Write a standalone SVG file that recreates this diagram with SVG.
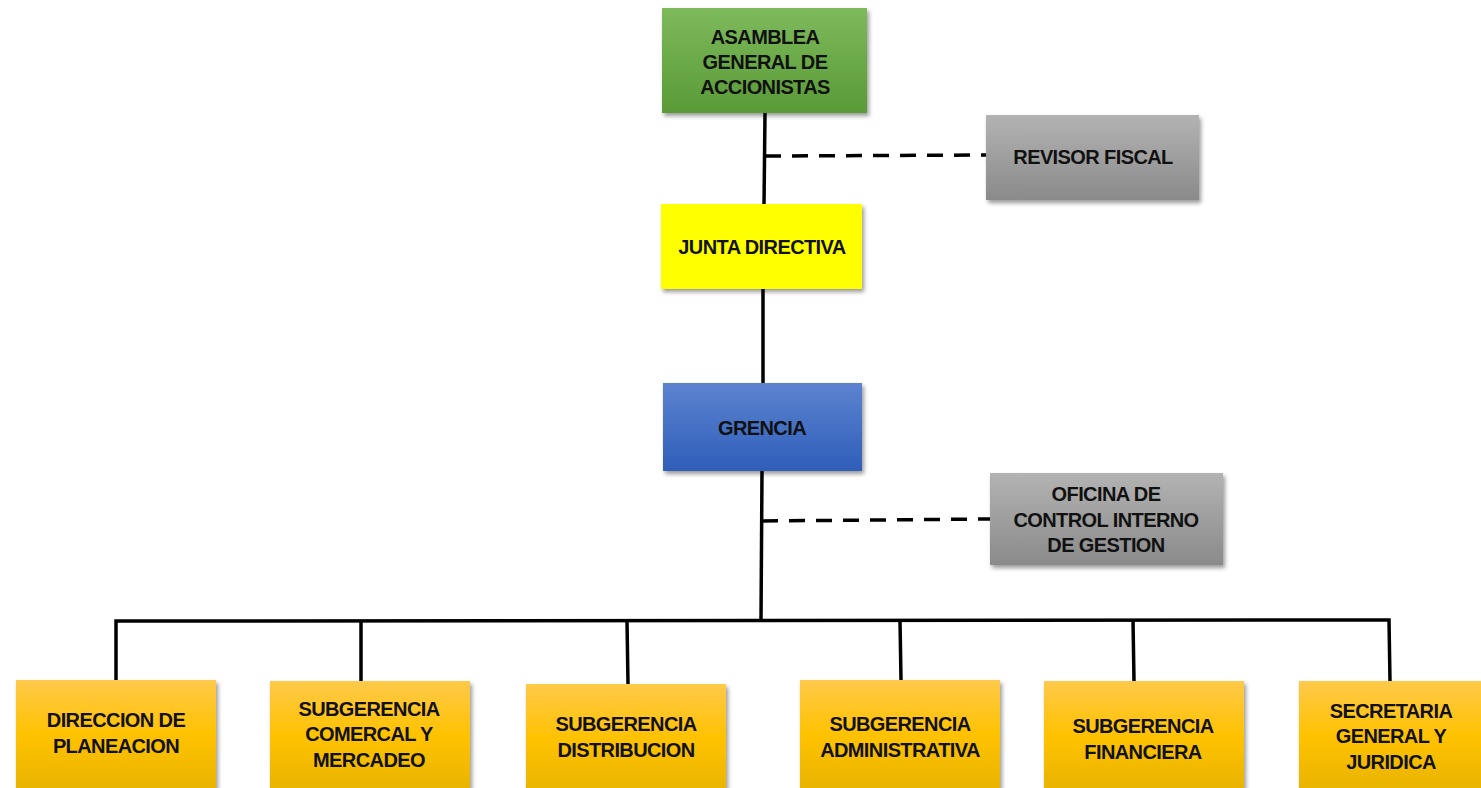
<svg xmlns="http://www.w3.org/2000/svg" width="1481" height="788" viewBox="0 0 1481 788">
<defs>
<linearGradient id="gGreen" x1="0" y1="0" x2="0" y2="1"><stop offset="0" stop-color="#7dba5c"/><stop offset="1" stop-color="#5a9a36"/></linearGradient>
<linearGradient id="gBlue" x1="0" y1="0" x2="0" y2="1"><stop offset="0" stop-color="#5d83d0"/><stop offset="1" stop-color="#2e5eb9"/></linearGradient>
<linearGradient id="gGray" x1="0" y1="0" x2="0" y2="1"><stop offset="0" stop-color="#b3b3b3"/><stop offset="1" stop-color="#8a8a8a"/></linearGradient>
<linearGradient id="gOrange" x1="0" y1="0" x2="0" y2="1"><stop offset="0" stop-color="#ffc94a"/><stop offset="0.5" stop-color="#ffc200"/><stop offset="1" stop-color="#e8b400"/></linearGradient>
<filter id="sh" x="-10%" y="-10%" width="125%" height="130%"><feDropShadow dx="2" dy="3" stdDeviation="2" flood-color="#000" flood-opacity="0.4"/></filter>
</defs>
<style>
text{font-family:"Liberation Sans",Arial,sans-serif;font-weight:bold;font-size:20px;fill:#111;text-anchor:middle;letter-spacing:-0.6px}
.solid{stroke:#000;stroke-width:3.5;fill:none}
.dash{stroke:#000;stroke-width:3.5;fill:none;stroke-dasharray:16,11}
</style>
<g id="connectors">
<line class="solid" x1="765" y1="113" x2="764" y2="205"/>
<line class="dash" x1="765" y1="156" x2="986" y2="155"/>
<line class="solid" x1="763" y1="289" x2="763" y2="384"/>
<line class="solid" x1="762" y1="471" x2="761" y2="620"/>
<line class="dash" x1="762" y1="521" x2="990" y2="519"/>
<polyline class="solid" points="116,680 116,621 1389,620 1390,681"/>
<line class="solid" x1="361" y1="621" x2="361" y2="681"/>
<line class="solid" x1="627" y1="621" x2="628" y2="684"/>
<line class="solid" x1="900" y1="620" x2="901" y2="680"/>
<line class="solid" x1="1133" y1="620" x2="1134" y2="681"/>
</g>
<g id="asamblea"><rect x="662" y="8" width="205" height="105" fill="url(#gGreen)" filter="url(#sh)"/><text x="765" y="44">ASAMBLEA</text><text x="765" y="69">GENERAL DE</text><text x="765" y="94">ACCIONISTAS</text></g>
<g id="revisor"><rect x="986" y="115" width="213" height="85" fill="url(#gGray)" filter="url(#sh)"/><text x="1093" y="164">REVISOR FISCAL</text></g>
<g id="junta"><rect x="661" y="204" width="201" height="85" fill="#ffff00" filter="url(#sh)"/><text x="762" y="254">JUNTA DIRECTIVA</text></g>
<g id="grencia"><rect x="663" y="383" width="199" height="88" fill="url(#gBlue)" filter="url(#sh)"/><text x="762" y="435">GRENCIA</text></g>
<g id="oficina"><rect x="990" y="473" width="233" height="92" fill="url(#gGray)" filter="url(#sh)"/><text x="1106" y="501">OFICINA DE</text><text x="1106" y="527">CONTROL INTERNO</text><text x="1106" y="552">DE GESTION</text></g>
<g id="direccion"><rect x="16" y="680" width="200" height="110" fill="url(#gOrange)" filter="url(#sh)"/><text x="116" y="727">DIRECCION DE</text><text x="116" y="753">PLANEACION</text></g>
<g id="comercial"><rect x="270" y="681" width="200" height="110" fill="url(#gOrange)" filter="url(#sh)"/><text x="369" y="716">SUBGERENCIA</text><text x="369" y="741">COMERCAL Y</text><text x="369" y="767">MERCADEO</text></g>
<g id="distribucion"><rect x="526" y="684" width="200" height="110" fill="url(#gOrange)" filter="url(#sh)"/><text x="626" y="731">SUBGERENCIA</text><text x="626" y="757">DISTRIBUCION</text></g>
<g id="administrativa"><rect x="800" y="680" width="200" height="110" fill="url(#gOrange)" filter="url(#sh)"/><text x="900" y="731">SUBGERENCIA</text><text x="900" y="757">ADMINISTRATIVA</text></g>
<g id="financiera"><rect x="1044" y="681" width="200" height="110" fill="url(#gOrange)" filter="url(#sh)"/><text x="1143" y="733">SUBGERENCIA</text><text x="1143" y="759">FINANCIERA</text></g>
<g id="secretaria"><rect x="1299" y="681" width="190" height="110" fill="url(#gOrange)" filter="url(#sh)"/><text x="1391" y="718">SECRETARIA</text><text x="1391" y="743">GENERAL Y</text><text x="1391" y="769">JURIDICA</text></g>
</svg>
